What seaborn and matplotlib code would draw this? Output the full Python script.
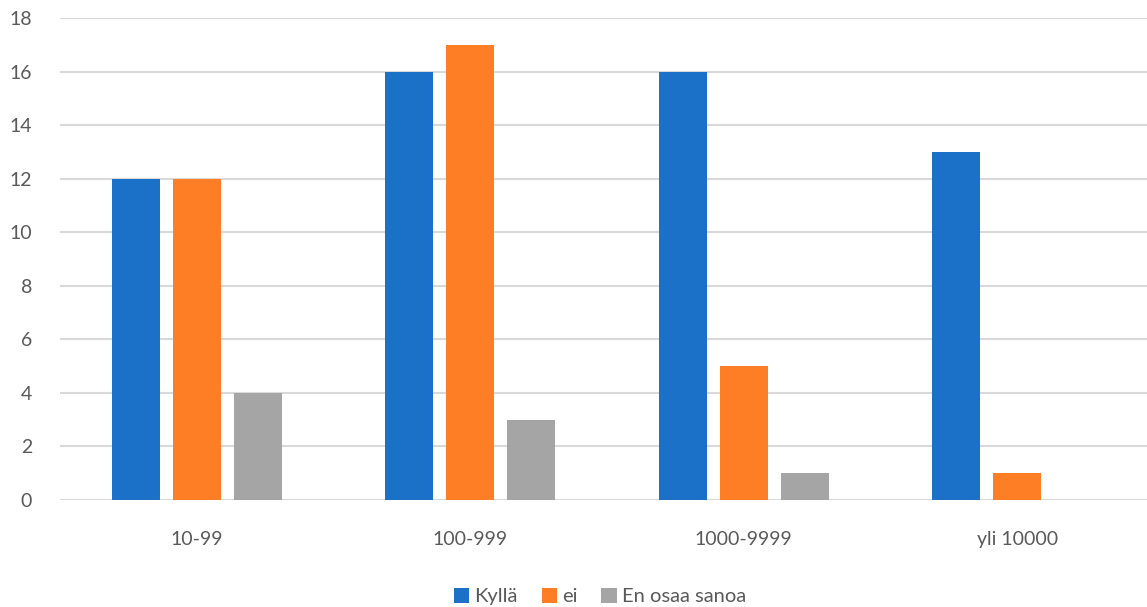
import matplotlib
matplotlib.use("Agg")
import matplotlib.pyplot as plt
import seaborn as sns
import pandas as pd
from matplotlib.patches import Patch

categories = ["10-99", "100-999", "1000-9999", "yli 10000"]
series_names = ["Kyllä", "ei", "En osaa sanoa"]
kylla = [12, 16, 16, 13]
ei = [12, 17, 5, 1]
en_osaa = [4, 3, 1, 0]
yticks = list(range(0, 19, 2))

colors = ["#1B70C8", "#FD7E24", "#A5A5A5"]

rows = []
for name, vals in zip(series_names, [kylla, ei, en_osaa]):
    for cat, v in zip(categories, vals):
        rows.append({"category": cat, "series": name, "value": v})
df = pd.DataFrame(rows)

sns.set_theme(style="white")
plt.rcParams["font.family"] = ["Lato", "DejaVu Sans"]

fig = plt.figure(figsize=(11.47, 6.07), dpi=100)
ax = fig.add_axes([60 / 1147, 107 / 607, 1094 / 1147, 482 / 607])

sns.barplot(data=df, x="category", y="value", hue="series", order=categories,
            hue_order=series_names, palette=colors, width=0.669, gap=0.215,
            saturation=1, legend=False, linewidth=0, ax=ax)

ax.set_ylim(0, 18)
ax.set_xlim(-0.5, 3.5)
ax.set_yticks(yticks)
ax.yaxis.grid(True, color="#D9D9D9", linewidth=1.5)
ax.set_axisbelow(True)
for s in ax.spines.values():
    s.set_visible(False)
ax.set_xlabel("")
ax.set_ylabel("")
ax.tick_params(axis="y", length=0, pad=20, labelsize=14, labelcolor="#595959")
ax.tick_params(axis="x", length=0, pad=22, labelsize=14, labelcolor="#595959")

handles = [Patch(facecolor=c, edgecolor="none") for c in colors]
fig.legend(handles, series_names, loc="lower center", bbox_to_anchor=(0.523, -0.027),
           ncol=3, frameon=False, fontsize=14.5, labelcolor="#595959",
           handlelength=0.75, handleheight=0.75, handletextpad=0.25, columnspacing=1.2)

fig.savefig("out.png", dpi=100)
